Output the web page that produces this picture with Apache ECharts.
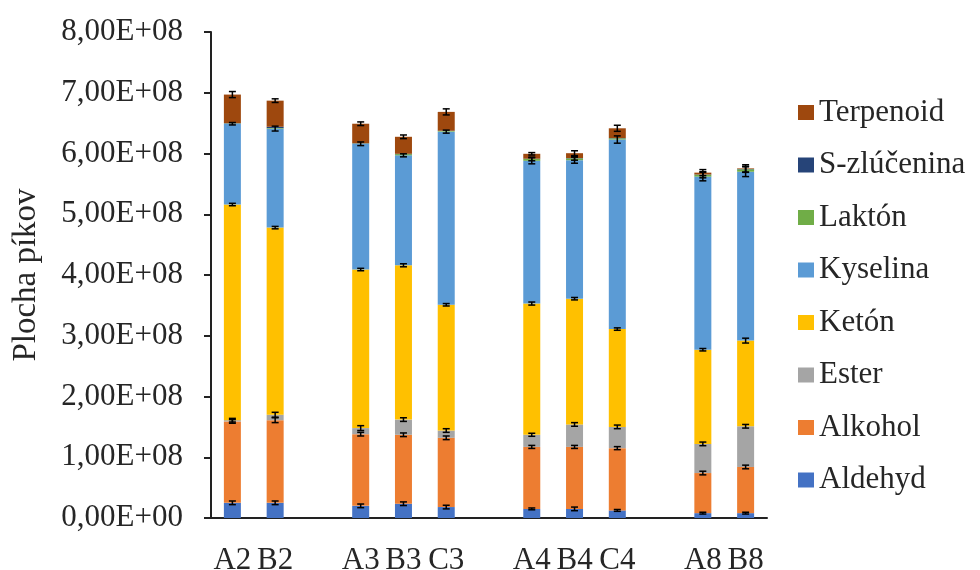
<!DOCTYPE html>
<html>
<head>
<meta charset="utf-8">
<script src="https://cdn.jsdelivr.net/npm/echarts@6/dist/echarts.min.js"></script>
<style>html,body{margin:0;padding:0;background:#fff}#chart{width:980px;height:570px}</style>
</head>
<body>
<div id="chart"></div>
<script>
// values in units of 1E+08
const SCALE = 1e8;
const categories = ['A2','B2','','A3','B3','C3','','A4','B4','C4','','A8','B8'];
const seriesNames = ['Aldehyd','Alkohol','Ester','Ketón','Kyselina','Laktón','S-zlúčenina','Terpenoid'];
const aldehyd    = [0.25, 0.25, null, 0.20, 0.235, 0.18, null, 0.15, 0.15, 0.125, null, 0.08, 0.08];
const alkohol    = [1.34, 1.36, null, 1.18, 1.135, 1.14, null, 1.02, 1.02, 1.025, null, 0.66, 0.76];
const ester      = [0.02, 0.09, null, 0.10, 0.25, 0.12, null, 0.20, 0.37, 0.35, null, 0.48, 0.67];
const keton      = [3.55, 3.08, null, 2.61, 2.54, 2.07, null, 2.16, 2.07, 1.61, null, 1.55, 1.41];
const kyselina   = [1.33, 1.63, null, 2.07, 1.81, 2.85, null, 2.35, 2.28, 3.12, null, 2.85, 2.78];
const lakton     = [0.005, 0.01, null, 0.005, 0.02, 0.01, null, 0.03, 0.03, 0.02, null, 0.03, 0.04];
const sZlucenina = [0.005, 0.02, null, 0.005, 0.005, 0.005, null, 0.005, 0.005, 0.005, null, 0.005, 0.005];
const terpenoid  = [0.47, 0.43, null, 0.32, 0.28, 0.31, null, 0.08, 0.08, 0.16, null, 0.03, 0.01];
// error bar half-lengths (1E+08)
const errAldehyd   = [0.03, 0.03, null, 0.03, 0.03, 0.03, null, 0.015, 0.03, 0.015, null, 0.015, 0.015];
const errAlkohol   = [0.03, 0.04, null, 0.03, 0.03, 0.03, null, 0.025, 0.025, 0.025, null, 0.03, 0.03];
const errEster     = [0.03, 0.04, null, 0.04, 0.03, 0.03, null, 0.025, 0.03, 0.03, null, 0.03, 0.03];
const errKeton     = [0.02, 0.02, null, 0.02, 0.025, 0.02, null, 0.025, 0.02, 0.02, null, 0.02, 0.04];
const errKyselina  = [0.02, 0.04, null, 0.03, 0.025, 0.025, null, 0.05, 0.05, 0.06, null, 0.07, 0.08];
const errLakton    = [null, null, null, null, null, null, null, 0.03, 0.03, null, null, 0.05, 0.05];
const errSZlucenina= [null, null, null, null, null, null, null, null, null, null, null, null, null];
const errTerpenoid = [0.05, 0.03, null, 0.03, 0.03, 0.05, null, 0.02, 0.04, 0.05, null, 0.05, 0.06];
const yTicks = {min: 0, max: 8, interval: 1};

const values = [aldehyd, alkohol, ester, keton, kyselina, lakton, sZlucenina, terpenoid];
const errors = [errAldehyd, errAlkohol, errEster, errKeton, errKyselina, errLakton, errSZlucenina, errTerpenoid];
const colors = ['#4472C4','#ED7D31','#A5A5A5','#FFC000','#5B9BD5','#70AD47','#264478','#9E480E'];
const FONT = "'Liberation Serif','Times New Roman',serif";
const TXT = '#262626';

const series = [];
const cum = categories.map(() => 0);
values.forEach((arr, si) => {
  series.push({
    name: seriesNames[si], type: 'bar', stack: 'total', barWidth: 17,
    itemStyle: {color: colors[si]},
    data: arr.map(v => v == null ? '-' : v * SCALE)
  });
});
const errData = [];
values.forEach((arr, si) => {
  arr.forEach((v, ci) => {
    if (v == null) return;
    cum[ci] += v;
    const e = errors[si][ci];
    if (e != null) errData.push([ci, cum[ci] * SCALE, e * SCALE]);
  });
});
series.push({
  name: 'errorbars', type: 'custom', z: 10,
  encode: {x: 0, y: 1},
  data: errData,
  renderItem: function (params, api) {
    const x = api.value(0), y = api.value(1), e = api.value(2);
    const hi = api.coord([x, y + e]);
    const lo = api.coord([x, y - e]);
    const hw = 3.5;
    const st = {stroke: '#000', lineWidth: 1.5};
    return {type: 'group', children: [
      {type: 'line', shape: {x1: hi[0], y1: hi[1], x2: lo[0], y2: lo[1]}, style: st},
      {type: 'line', shape: {x1: hi[0]-hw, y1: hi[1], x2: hi[0]+hw, y2: hi[1]}, style: st},
      {type: 'line', shape: {x1: lo[0]-hw, y1: lo[1], x2: lo[0]+hw, y2: lo[1]}, style: st}
    ]};
  }
});

const chart = echarts.init(document.getElementById('chart'));
chart.setOption({
  animation: false,
  backgroundColor: '#fff',
  grid: {left: 211, right: 213, top: 32, bottom: 52, containLabel: false, outerBoundsMode: 'none'},
  legend: {
    orient: 'vertical', left: 793, top: 92,
    data: seriesNames.slice().reverse(),
    icon: 'rect', itemWidth: 16, itemHeight: 15, itemGap: 21.5,
    textStyle: {fontFamily: FONT, fontSize: 31, color: TXT, lineHeight: 31}
  },
  xAxis: {
    type: 'category', data: categories,
    axisLine: {lineStyle: {color: '#222', width: 2}},
    axisTick: {alignWithLabel: true, interval: 0, length: 7, lineStyle: {color: '#222', width: 2}},
    axisLabel: {interval: 0, fontFamily: FONT, fontSize: 31, color: TXT, margin: 27}
  },
  yAxis: {
    type: 'value', min: yTicks.min * SCALE, max: yTicks.max * SCALE, interval: yTicks.interval * SCALE,
    name: 'Plocha píkov', nameLocation: 'middle', nameGap: 168, nameRotate: 90,
    nameTextStyle: {fontFamily: FONT, fontSize: 33, color: TXT},
    axisLine: {show: true, lineStyle: {color: '#222', width: 2}},
    axisTick: {show: true, length: 7, lineStyle: {color: '#222', width: 2}},
    splitLine: {show: false},
    axisLabel: {
      fontFamily: FONT, fontSize: 31, color: TXT, margin: 28,
      formatter: function (v) {
        if (v === 0) return '0,00E+00';
        return (v / SCALE).toFixed(2).replace('.', ',') + 'E+08';
      }
    }
  },
  series: series
});
</script>
</body>
</html>
